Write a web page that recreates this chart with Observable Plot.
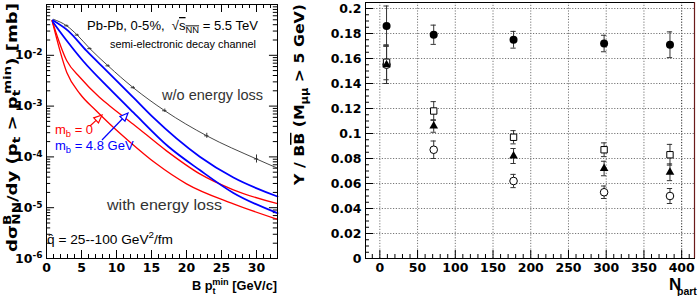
<!DOCTYPE html>
<html><head><meta charset="utf-8">
<script src="https://cdn.jsdelivr.net/npm/d3@7"></script>
<script src="https://cdn.jsdelivr.net/npm/@observablehq/plot@0.6"></script>
<style>
body{margin:0;background:#fff;}
#wrap{position:relative;width:698px;height:296px;overflow:hidden;background:#fff;}
#wrap svg{position:absolute;top:0;}
</style></head><body><div id="wrap"></div>
<script>
// ---------------- data: left panel (B cross section vs pt_min) ----------------
const ptNoLoss   = [1.0, 2.9, 4.4, 6.2, 8.8, 12.4, 16.9, 22.9, 30.0, 33.0];
const sigNoLoss  = [0.051, 0.038, 0.025, 0.0135, 0.0062, 0.0023, 8.1e-4, 2.6e-4, 9.1e-5, 6.0e-5];
const errNoLoss  = [0, 0.04, 0.04, 0.04, 0.05, 0.06, 0.08, 0.12, 0.2, 0];

const ptRedHi  = [0.8, 2.9, 4.8, 7.6, 9.0, 12.4, 17.1, 21.9, 26.7, 33.0];
const sigRedHi = [0.048, 7.8e-3, 3.66e-3, 1.48e-3, 1.02e-3, 4.4e-4, 1.33e-4, 4.63e-5, 2.25e-5, 1.2e-5];
const ptRedLo  = [0.8, 2.9, 4.8, 7.1, 9.0, 11.7, 15.7, 20.0, 26.7, 33.0];
const sigRedLo = [0.048, 4.6e-3, 1.73e-3, 8.1e-4, 4.5e-4, 2.09e-4, 7.3e-5, 2.95e-5, 1.19e-5, 5.9e-6];
const ptBlueHi  = [0.9, 3.1, 5.7, 8.6, 12.4, 15.2, 21.9, 26.7, 33.0];
const sigBlueHi = [0.049, 0.0303, 0.0123, 4.95e-3, 1.48e-3, 6.05e-4, 1.01e-4, 3.92e-5, 1.66e-5];
const ptBlueLo  = [0.9, 2.9, 5.2, 9.0, 12.4, 17.4, 21.9, 26.7, 33.0];
const sigBlueLo = [0.0455, 0.0193, 7.8e-3, 2.2e-3, 7.5e-4, 1.6e-4, 5.5e-5, 1.95e-5, 7.8e-6];

const xTicksL = [0, 5, 10, 15, 20, 25, 30];
const yDecadesL = [1e-6, 1e-5, 1e-4, 1e-3, 1e-2, 1e-1];

// ---------------- data: right panel (Upsilon / BBbar vs Npart) ----------------
const nPart        = [8.9, 71.4, 177.2, 297.2, 384.5];
const ratioFilled  = [0.186, 0.179, 0.175, 0.172, 0.171];
const errFilled    = [0.016, 0.0077, 0.0067, 0.0066, 0.0103];
const ratioSquare  = [0.157, 0.118, 0.097, 0.087, 0.083];
const errSquare    = [0.014, 0.0075, 0.0053, 0.0055, 0.0083];
const ratioTri     = [0.155, 0.106, 0.082, 0.072, 0.069];
const errTri       = [0.015, 0.005, 0.006, 0.0058, 0.0067];
const ratioOpen    = [0.155, 0.087, 0.062, 0.053, 0.050];
const errOpen      = [0.015, 0.007, 0.0053, 0.005, 0.006];

const xTicksR = [0, 50, 100, 150, 200, 250, 300, 350, 400];
const yTicksR = [0, 0.02, 0.04, 0.06, 0.08, 0.1, 0.12, 0.14, 0.16, 0.18, 0.2];

// ---------------- helpers ----------------
const WIDE = '"DejaVu Sans", sans-serif';
const TXT = '"Liberation Sans", Arial, sans-serif';
const toRows = (xs, ys, extra) => xs.map((x, i) => ({x, y: ys[i], e: extra ? extra[i] : 0}));

function rich(svg, o, segs) {
  const t = d3.select(svg).append("text")
    .attr("transform", `translate(${o.x},${o.y})` + (o.rotate ? ` rotate(${o.rotate})` : ""))
    .attr("font-size", o.size).attr("font-family", o.family || TXT)
    .attr("font-weight", o.weight || "normal").attr("fill", o.fill || "#000")
    .attr("text-anchor", o.anchor || "start");
  if (o.length) t.attr("textLength", o.length).attr("lengthAdjust", o.adjust || "spacingAndGlyphs");
  const up = o.up || 0.42, down = o.down || 0.26, sc = o.scale || 0.72;
  let cur = 0;
  for (const [txt, kind, ex0] of segs) {
    const ex = ex0 || {};
    let target = kind === "sup" ? -up * o.size : kind === "sub" ? down * o.size : 0;
    if (ex.dy) target += ex.dy;
    const sp = t.append("tspan").attr("dy", target - cur).text(txt);
    if (kind === "sup" || kind === "sub") sp.attr("font-size", o.size * (ex.scale || sc));
    if (ex.dx != null) sp.attr("dx", ex.dx);
    if (ex.over) sp.attr("text-decoration", "overline");
    cur = target;
  }
  return t;
}
function arrow(svg, x1, y1, x2, y2, color) {
  const g = d3.select(svg).append("g").attr("stroke", color).attr("fill", "none").attr("stroke-width", 1.2);
  const a = Math.atan2(y2 - y1, x2 - x1), L = 8, W = 3.5;
  const bx = x2 - L * Math.cos(a), by = y2 - L * Math.sin(a);
  g.append("line").attr("x1", x1).attr("y1", y1).attr("x2", bx).attr("y2", by);
  g.append("path").attr("d",
    `M${x2},${y2}L${bx + W * Math.sin(a)},${by - W * Math.cos(a)}L${bx - W * Math.sin(a)},${by + W * Math.cos(a)}Z`)
    .attr("fill", "#fff");
}

// ---------------- left panel ----------------
const minorL = [];
for (let d = 1e-6; d < 0.09; d *= 10) for (let k = 2; k <= 9; k++) minorL.push(d * k);
const xMinorL = d3.range(0, 34, 1).filter(v => v % 5 !== 0);
const fMaj = Math.pow(10, 8 / 50.8), fMin = Math.pow(10, 4 / 50.8);

const noLoss = toRows(ptNoLoss, sigNoLoss, errNoLoss);
const noLossMarks = noLoss.filter(d => d.e > 0);

const left = Plot.plot({
  width: 280, height: 296,
  marginLeft: 46, marginRight: 3, marginTop: 4, marginBottom: 38,
  x: {domain: [0, 33]},
  y: {type: "log", domain: [1e-6, 1e-1]},
  style: {fontFamily: WIDE, fontSize: "12.5px", fontWeight: "bold", color: "#000", background: "transparent", overflow: "visible"},
  marks: [
    Plot.ruleY(yDecadesL, {x1: 0, x2: 1.15, stroke: "#000"}),
    Plot.ruleY(minorL, {x1: 0, x2: 0.6, stroke: "#000"}),
    Plot.ruleY(yDecadesL, {x1: 33 - 1.15, x2: 33, stroke: "#000"}),
    Plot.ruleY(minorL, {x1: 33 - 0.6, x2: 33, stroke: "#000"}),
    Plot.ruleX(xTicksL, {y1: 1e-6, y2: 1e-6 * fMaj, stroke: "#000"}),
    Plot.ruleX(xMinorL, {y1: 1e-6, y2: 1e-6 * fMin, stroke: "#000"}),
    Plot.ruleX(xTicksL, {y1: 0.1 / fMaj, y2: 0.1, stroke: "#000"}),
    Plot.ruleX(xMinorL, {y1: 0.1 / fMin, y2: 0.1, stroke: "#000"}),
    Plot.line(noLoss, {x: "x", y: "y", stroke: "#333", strokeWidth: 0.9, curve: "monotone-x"}),
    Plot.ruleX(noLossMarks, {x: "x", y1: d => d.y / (1 + d.e), y2: d => d.y * (1 + d.e), stroke: "#333"}),
    Plot.ruleY(noLossMarks, {y: "y", x1: d => d.x - 0.3, x2: d => d.x + 0.3, stroke: "#333"}),
    Plot.line(toRows(ptRedHi, sigRedHi), {x: "x", y: "y", stroke: "#ff0000", strokeWidth: 1.3, curve: "monotone-x"}),
    Plot.line(toRows(ptRedLo, sigRedLo), {x: "x", y: "y", stroke: "#ff0000", strokeWidth: 1.3, curve: "monotone-x"}),
    Plot.line(toRows(ptBlueHi, sigBlueHi), {x: "x", y: "y", stroke: "#0000ff", strokeWidth: 1.8, curve: "monotone-x"}),
    Plot.line(toRows(ptBlueLo, sigBlueLo), {x: "x", y: "y", stroke: "#0000ff", strokeWidth: 1.8, curve: "monotone-x"}),
    Plot.frame({stroke: "#000"}),
    Plot.axisX({ticks: xTicksL, tickSize: 0, tickPadding: 5, label: null}),
    Plot.axisY({ticks: yDecadesL.slice(0, 5), tickSize: 0, tickPadding: 4, label: null,
      tickFormat: d => String(Math.round(Math.log10(d)))})
  ]
});
d3.select(left).selectAll('g[aria-label="y-axis tick label"] text').each(function () {
  const t = d3.select(this), e = t.text();
  t.text("10");
  t.append("tspan").attr("dy", "-0.45em").attr("font-size", "0.72em").text("-" + e.replace("−", "").replace("-", ""));
});
document.getElementById("wrap").appendChild(left);
left.style.left = "0px";

// left annotations
rich(left, {x: 17, y: 252, size: 14.5, family: WIDE, weight: "bold", rotate: -90, anchor: "start", length: 249, scale: 0.75, down: 0.24}, [
  ["d"], ["σ"], ["B", "sup"], ["NN", "sub", {dx: -8}], ["/dy (p"], ["t", "sub"], [" > p"], ["t", "sub"], ["min", "sup", {dx: -3.5}], [") [mb]"]
]);
rich(left, {x: 192, y: 290, size: 13.5, family: TXT, weight: "bold", length: 85, up: 0.36}, [
  ["B p"], ["t", "sub"], ["min", "sup", {dx: -3.5}], [" [GeV/c]"]
]);
rich(left, {x: 87, y: 30, size: 13, length: 171}, [
  ["Pb-Pb, 0-5%,  √"], ["s", "n", {over: true}], ["NN", "sub", {over: true}], [" = 5.5 TeV"]
]);
rich(left, {x: 110, y: 48, size: 11, length: 146}, [["semi-electronic decay channel"]]);
rich(left, {x: 162, y: 100, size: 15, fill: "#333", length: 101}, [["w/o energy loss"]]);
rich(left, {x: 107, y: 210, size: 15, fill: "#333", length: 115}, [["with energy loss"]]);
rich(left, {x: 47, y: 244, size: 13.5, length: 126}, [
  ["q"], ["ˆ", "n", {dx: -6.0, dy: -0.5}], [" = 25--100 GeV", "n", {dx: 1.5}], ["2", "sup"], ["/fm"]
]);
rich(left, {x: 55, y: 134, size: 13, fill: "#ff0000"}, [["m"], ["b", "sub"], [" = 0"]]);
rich(left, {x: 55, y: 149.5, size: 13, fill: "#0000ff"}, [["m"], ["b", "sub"], [" = 4.8 GeV"]]);
arrow(left, 90, 126, 102, 115, "#ff0000");
arrow(left, 102, 140, 128, 113, "#0000ff");

// ---------------- right panel ----------------
const mk = (ys, es) => nPart.map((x, i) => ({x, y: ys[i], e: es[i]}));
const sFilled = mk(ratioFilled, errFilled), sSquare = mk(ratioSquare, errSquare),
      sTri = mk(ratioTri, errTri), sOpen = mk(ratioOpen, errOpen);
const allPts = [...sFilled, ...sSquare, ...sTri, ...sOpen];
const xMinorR = d3.range(-10, 417, 10).filter(v => v % 50 !== 0);
const yMinorR = d3.range(0, 0.2049, 0.005).filter(v => Math.abs(v / 0.02 - Math.round(v / 0.02)) > 1e-6);
const ex = 8 / 0.7546, ey = 8 / 1250;

const right = Plot.plot({
  width: 418, height: 296,
  marginLeft: 85, marginRight: 4, marginTop: 2, marginBottom: 38,
  x: {domain: [-19, 417]},
  y: {domain: [0, 0.2048]},
  style: {fontFamily: WIDE, fontSize: "12.5px", fontWeight: "bold", color: "#000", background: "transparent", overflow: "visible"},
  marks: [
    Plot.ruleX(xTicksR.slice(0, -1), {stroke: "#777", strokeDasharray: "1.2,1.6", strokeWidth: 1}),
    Plot.ruleX(xTicksR.slice(-1), {stroke: "#222", strokeDasharray: "1.2,1.6", strokeWidth: 1}),
    Plot.ruleY(yTicksR.slice(1), {stroke: "#777", strokeDasharray: "1.2,1.6", strokeWidth: 1}),
    Plot.ruleY(yTicksR, {x1: -19, x2: -19 + ex, stroke: "#000"}),
    Plot.ruleY(yMinorR, {x1: -19, x2: -19 + ex / 2, stroke: "#000"}),
    Plot.ruleX(xTicksR, {y1: 0, y2: ey, stroke: "#000"}),
    Plot.ruleX(xMinorR, {y1: 0, y2: ey / 2, stroke: "#000"}),
    Plot.ruleX(allPts, {x: "x", y1: d => d.y - d.e, y2: d => d.y + d.e, stroke: "#333", strokeWidth: 1}),
    Plot.ruleY(allPts, {y: d => d.y + d.e, x1: d => d.x - 3.5, x2: d => d.x + 3.5, stroke: "#333"}),
    Plot.ruleY(allPts, {y: d => d.y - d.e, x1: d => d.x - 3.5, x2: d => d.x + 3.5, stroke: "#333"}),
    Plot.dot(sOpen, {x: "x", y: "y", r: 3.8, fill: "#fff", stroke: "#000", strokeWidth: 1}),
    Plot.dot(sSquare, {x: "x", y: "y", r: 3.6, symbol: "square", fill: "#fff", stroke: "#000", strokeWidth: 1}),
    Plot.dot(sTri, {x: "x", y: "y", r: 3.2, symbol: "triangle", fill: "#000", stroke: "none"}),
    Plot.dot(sFilled, {x: "x", y: "y", r: 4, fill: "#000", stroke: "none"}),
    Plot.frame({stroke: "#000"}),
    Plot.ruleX([417], {stroke: "#6b1a1a", strokeWidth: 1.2}),
    Plot.axisX({ticks: xTicksR, tickSize: 0, tickPadding: 5, label: null}),
    Plot.axisY({ticks: yTicksR, tickSize: 0, tickPadding: 4, label: null, tickFormat: d => String(+d.toFixed(2))})
  ]
});
document.getElementById("wrap").appendChild(right);
right.style.left = "280px";

rich(right, {x: 24, y: 4, size: 14.5, family: WIDE, weight: "bold", rotate: -90, anchor: "end", length: 181}, [
  ["Υ / B"], ["B", "n", {over: true}], [" (M"], ["μμ", "sub"], [" > 5 GeV)"]
]);
rich(right, {x: 389, y: 290, size: 17, family: TXT, weight: "bold"}, [["N"]]);
rich(right, {x: 397, y: 295, size: 10.5, family: TXT, weight: "bold"}, [["part"]]);
</script></body></html>
